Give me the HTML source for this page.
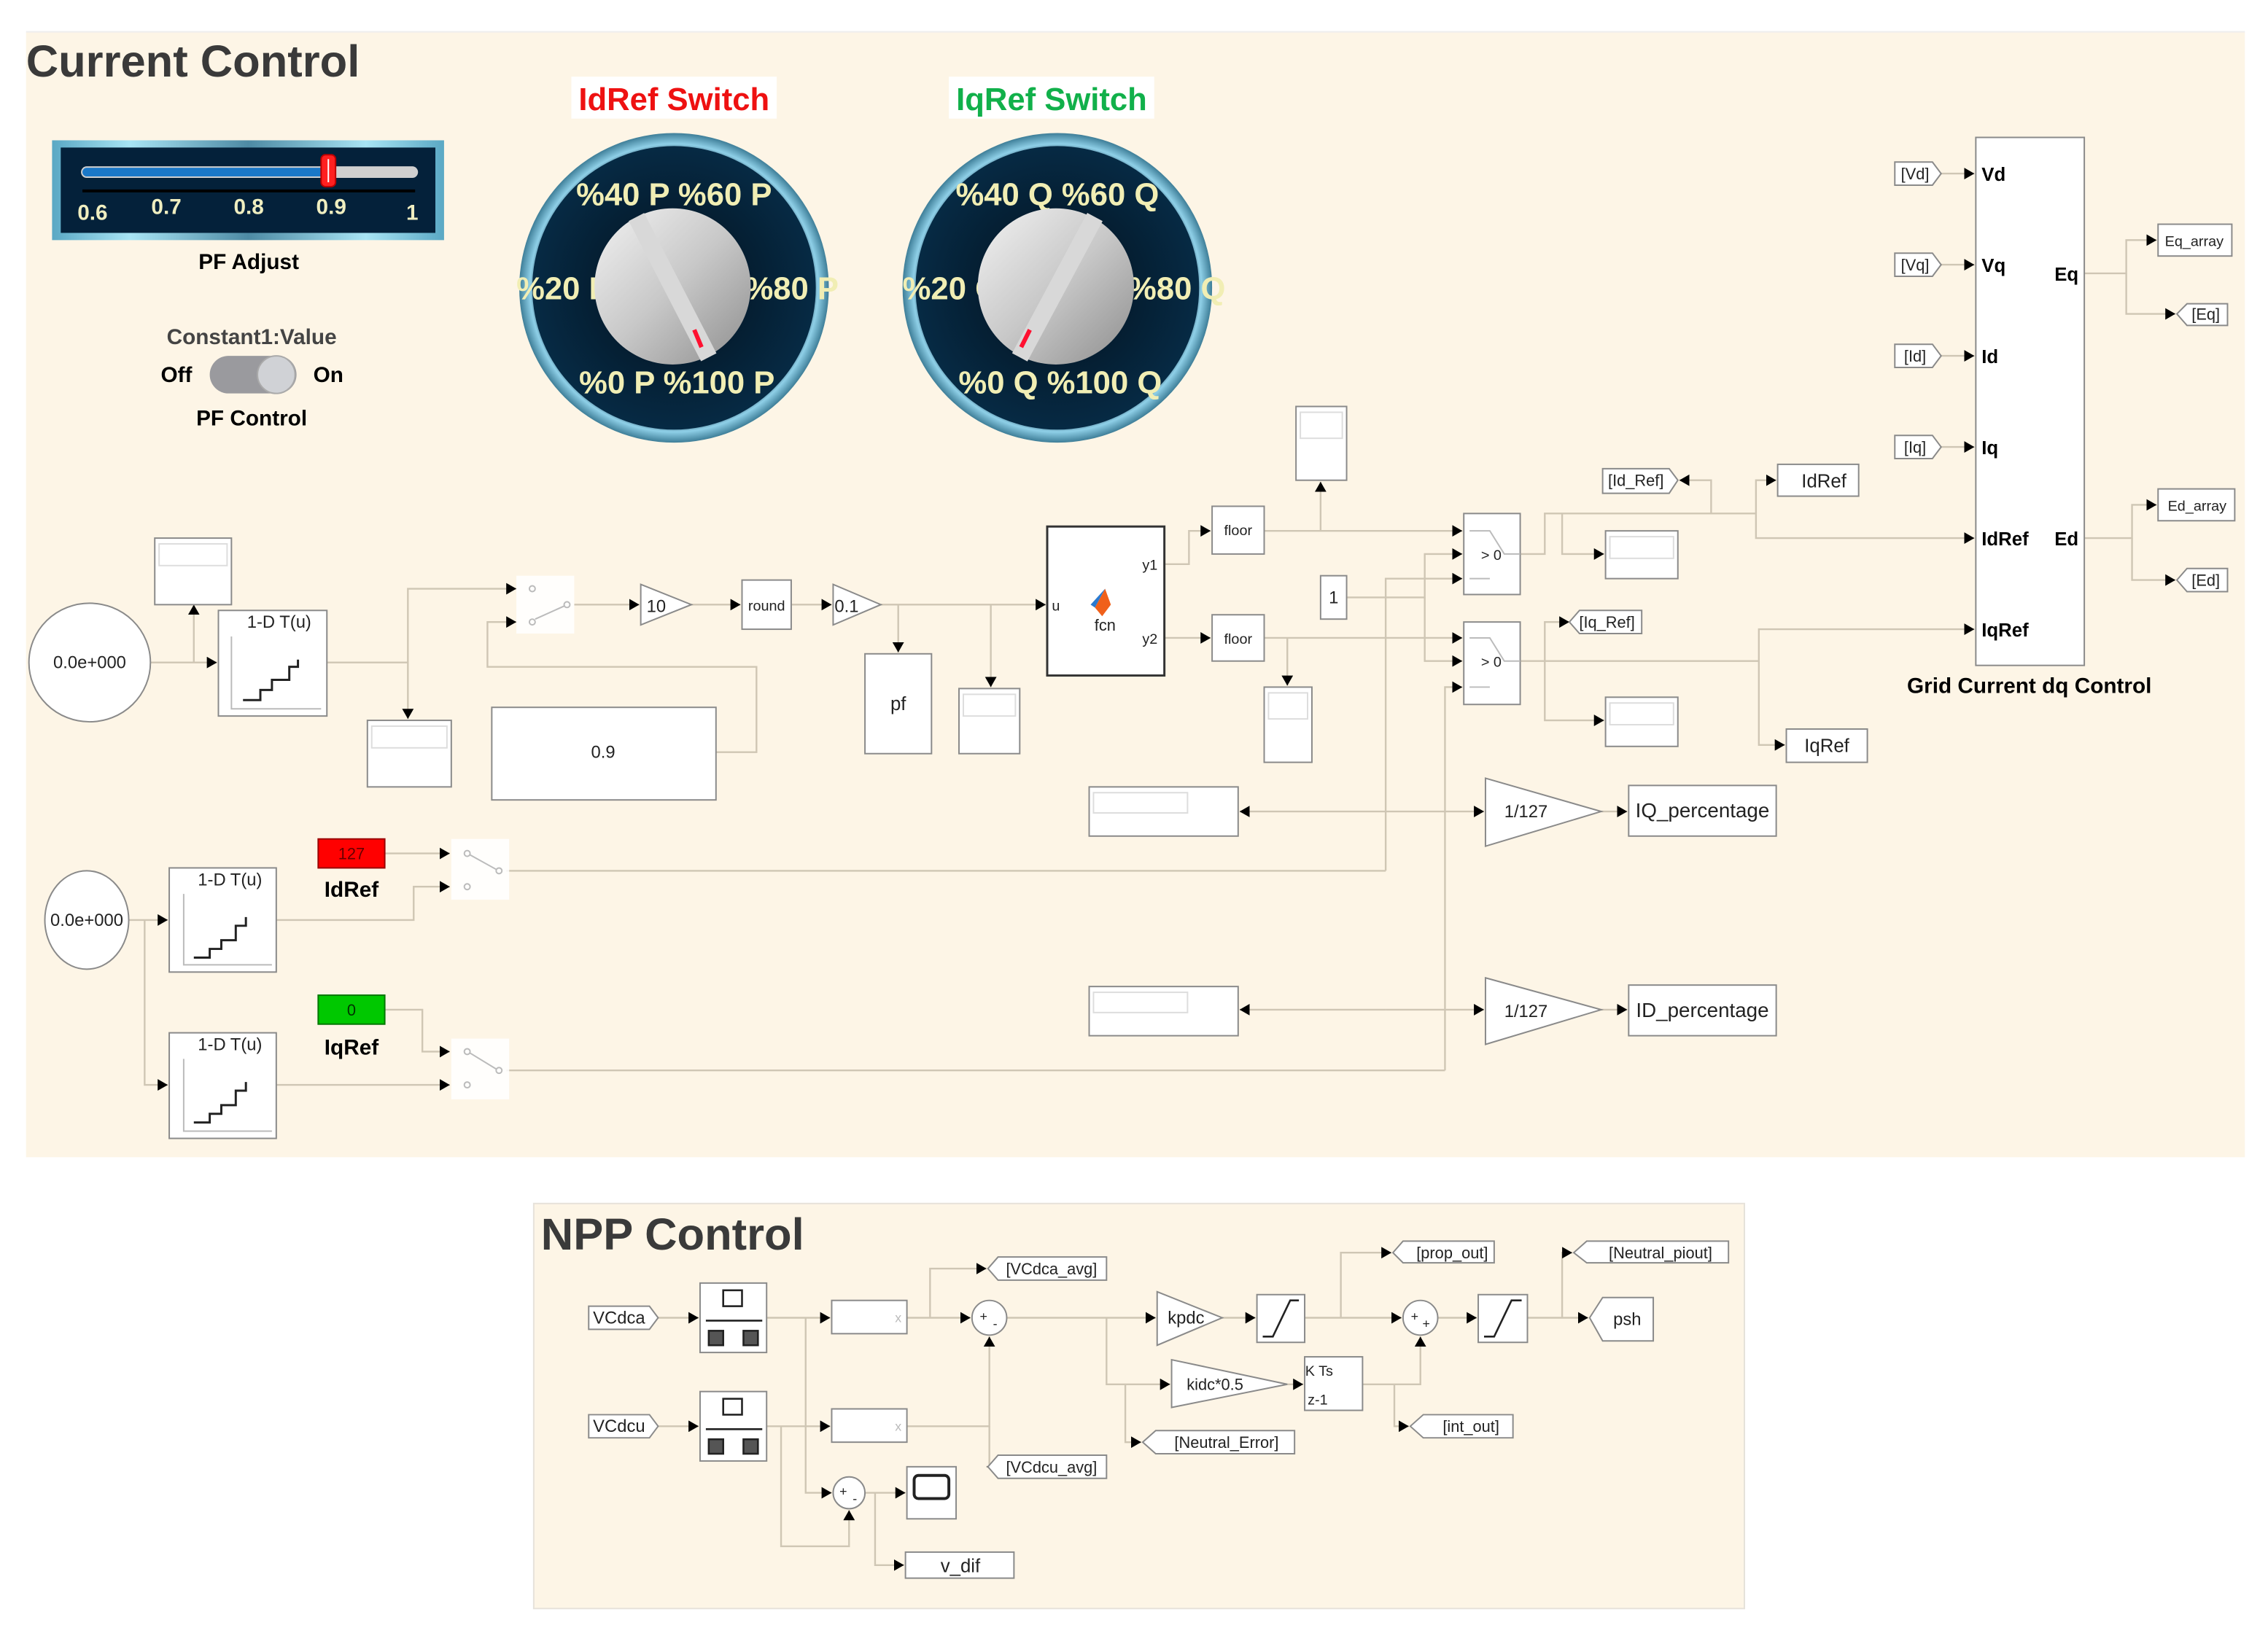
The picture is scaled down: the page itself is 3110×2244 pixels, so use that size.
<!DOCTYPE html>
<html><head><meta charset="utf-8">
<style>
html,body{margin:0;padding:0;background:#fff;}
svg{display:block;}
text{font-family:"Liberation Sans",Arial,sans-serif;}
</style></head>
<body>
<svg width="3110" height="2244" viewBox="0 0 1568 1131" preserveAspectRatio="none" xmlns="http://www.w3.org/2000/svg">
<defs>
<marker id="a" markerUnits="userSpaceOnUse" markerWidth="8" markerHeight="8" refX="7" refY="4" orient="auto">
<path d="M0,0 L7,4 L0,8 z" fill="#000"/></marker>
<radialGradient id="ring" cx="50%" cy="50%" r="50%">
<stop offset="86%" stop-color="#0c2a40"/><stop offset="93%" stop-color="#8fd0e8"/><stop offset="100%" stop-color="#3e7e98"/></radialGradient>
<radialGradient id="dark" cx="50%" cy="50%" r="50%"><stop offset="0%" stop-color="#03101c"/><stop offset="100%" stop-color="#062a44"/></radialGradient>
<linearGradient id="silver" x1="0" y1="0" x2="1" y2="1"><stop offset="0" stop-color="#f2f2f2"/><stop offset="0.5" stop-color="#c8c8c8"/><stop offset="1" stop-color="#8e8e8e"/></linearGradient>
<linearGradient id="frame" x1="0" y1="0" x2="1" y2="0"><stop offset="0" stop-color="#5aa8c4"/><stop offset="0.2" stop-color="#a8e4f4"/><stop offset="0.5" stop-color="#4d8aa4"/><stop offset="0.8" stop-color="#a8e4f4"/><stop offset="1" stop-color="#5aa8c4"/></linearGradient>
</defs>

<rect x="18" y="22" width="1534" height="778" fill="#fdf5e6"/>
<line x1="18" y1="22" x2="1552" y2="22" stroke="#eee"/>
<rect x="369" y="832" width="837" height="280" fill="#fdf5e6" stroke="#e6e2da"/>

<text x="18" y="53" font-size="31" font-weight="bold" fill="#3a3a3a">Current Control</text>
<text x="374" y="864" font-size="31" font-weight="bold" fill="#3a3a3a">NPP Control</text>

<rect x="395" y="53" width="142" height="29" fill="#fff"/>
<text x="466" y="76" font-size="22" font-weight="bold" fill="#ee1111" text-anchor="middle">IdRef Switch</text>
<rect x="656" y="53" width="142" height="29" fill="#fff"/>
<text x="727" y="76" font-size="22" font-weight="bold" fill="#11b04a" text-anchor="middle">IqRef Switch</text>

<rect x="36" y="97" width="271" height="69" fill="url(#frame)"/>
<rect x="42" y="102" width="259" height="59" fill="#04213a"/>
<rect x="56" y="115" width="233" height="8" rx="4" fill="#d0d0d0"/>
<rect x="57" y="116" width="170" height="6" rx="3" fill="#1a78c8"/>
<rect x="222" y="107" width="10" height="22" rx="3" fill="#ff2020" stroke="#b00" stroke-width="1"/>
<line x1="227" y1="110" x2="227" y2="126" stroke="#fff" stroke-width="1"/>
<line x1="57" y1="132" x2="287" y2="132" stroke="#000" stroke-width="2"/>
<g fill="#efeec0" font-size="15" font-weight="bold" text-anchor="middle">
<text x="64" y="152">0.6</text><text x="115" y="148">0.7</text><text x="172" y="148">0.8</text><text x="229" y="148">0.9</text><text x="285" y="152">1</text></g>
<text x="172" y="186" font-size="15" font-weight="bold" text-anchor="middle">PF Adjust</text>
<text x="174" y="238" font-size="15" font-weight="bold" fill="#444" text-anchor="middle">Constant1:Value</text>
<text x="122" y="264" font-size="15" font-weight="bold" text-anchor="middle">Off</text>
<rect x="145" y="246" width="60" height="26" rx="13" fill="#9a9a9e"/>
<circle cx="191" cy="259" r="13" fill="#d0d2d6" stroke="#aaa"/>
<text x="227" y="264" font-size="15" font-weight="bold" text-anchor="middle">On</text>
<text x="174" y="294" font-size="15" font-weight="bold" text-anchor="middle">PF Control</text>

<circle cx="466" cy="199" r="107" fill="url(#ring)"/>
<circle cx="466" cy="199" r="98" fill="url(#dark)"/>
<g font-size="22" font-weight="bold" fill="#f1eeb4">
<text x="466" y="142" text-anchor="middle">%40 P %60 P</text>
<text x="357" y="207">%20 P</text>
<text x="515" y="207">%80 P</text>
<text x="468" y="272" text-anchor="middle">%0 P %100 P</text></g>
<circle cx="465" cy="198" r="54" fill="url(#silver)"/>
<line x1="440" y1="150" x2="490" y2="247" stroke="#d8d8d8" stroke-width="12"/>
<line x1="480" y1="228" x2="485" y2="240" stroke="#ff1030" stroke-width="3"/>
<circle cx="731" cy="199" r="107" fill="url(#ring)"/>
<circle cx="731" cy="199" r="98" fill="url(#dark)"/>
<g font-size="22" font-weight="bold" fill="#f1eeb4">
<text x="731" y="142" text-anchor="middle">%40 Q %60 Q</text>
<text x="624" y="207">%20 Q</text>
<text x="780" y="207">%80 Q</text>
<text x="733" y="272" text-anchor="middle">%0 Q %100 Q</text></g>
<circle cx="730" cy="198" r="54" fill="url(#silver)"/>
<line x1="757" y1="150" x2="705" y2="247" stroke="#d8d8d8" stroke-width="12"/>
<line x1="712" y1="228" x2="706" y2="240" stroke="#ff1030" stroke-width="3"/>

<g fill="none" stroke="#cfc6b4" stroke-width="1.2">
<polyline points="104,458 150,458" marker-end="url(#a)"/>
<polyline points="134,458 134,418" marker-end="url(#a)"/>
<polyline points="226,458 282,458 282,407 357,407" marker-end="url(#a)"/>
<polyline points="282,458 282,497" marker-end="url(#a)"/>
<polyline points="495,520 523,520 523,461 337,461 337,430 357,430" marker-end="url(#a)"/>
<polyline points="397,418 442,418" marker-end="url(#a)"/>
<polyline points="478,418 512,418" marker-end="url(#a)"/>
<polyline points="547,418 575,418" marker-end="url(#a)"/>
<polyline points="609,418 723,418" marker-end="url(#a)"/>
<polyline points="621,418 621,451" marker-end="url(#a)"/>
<polyline points="685,418 685,475" marker-end="url(#a)"/>
<polyline points="805,390 822,390 822,367 837,367" marker-end="url(#a)"/>
<polyline points="805,441 837,441" marker-end="url(#a)"/>
<polyline points="874,367 1011,367" marker-end="url(#a)"/>
<polyline points="913,367 913,333" marker-end="url(#a)"/>
<polyline points="874,441 1011,441" marker-end="url(#a)"/>
<polyline points="890,441 890,474" marker-end="url(#a)"/>
<polyline points="931,413 985,413 985,383 1011,383" marker-end="url(#a)"/>
<polyline points="985,413 985,457 1011,457" marker-end="url(#a)"/>
<polyline points="958,602 958,400 1011,400" marker-end="url(#a)"/>
<polyline points="999,740 999,475 1011,475" marker-end="url(#a)"/>
<polyline points="1051,383 1068,383 1068,355 1214,355 1214,372 1365,372" marker-end="url(#a)"/>
<polyline points="1183,355 1183,332 1161,332" marker-end="url(#a)"/>
<polyline points="1214,355 1214,332 1228,332" marker-end="url(#a)"/>
<polyline points="1080,355 1080,383 1109,383" marker-end="url(#a)"/>
<polyline points="1051,457 1216,457 1216,435 1365,435" marker-end="url(#a)"/>
<polyline points="1068,457 1068,430 1085,430" marker-end="url(#a)"/>
<polyline points="1068,457 1068,498 1109,498" marker-end="url(#a)"/>
<polyline points="1216,457 1216,515 1234,515" marker-end="url(#a)"/>
<polyline points="999,561 1026,561" marker-end="url(#a)"/>
<polyline points="999,561 857,561" marker-end="url(#a)"/>
<polyline points="1107,561 1125,561" marker-end="url(#a)"/>
<polyline points="958,698 1026,698" marker-end="url(#a)"/>
<polyline points="958,698 857,698" marker-end="url(#a)"/>
<polyline points="1107,698 1125,698" marker-end="url(#a)"/>
<polyline points="1342,120 1365,120" marker-end="url(#a)"/>
<polyline points="1342,183 1365,183" marker-end="url(#a)"/>
<polyline points="1342,246 1365,246" marker-end="url(#a)"/>
<polyline points="1342,309 1365,309" marker-end="url(#a)"/>
<polyline points="1441,189 1470,189 1470,166 1491,166" marker-end="url(#a)"/>
<polyline points="1470,189 1470,217 1504,217" marker-end="url(#a)"/>
<polyline points="1441,372 1474,372 1474,349 1491,349" marker-end="url(#a)"/>
<polyline points="1474,372 1474,401 1504,401" marker-end="url(#a)"/>
<polyline points="89,636 116,636" marker-end="url(#a)"/>
<polyline points="100,636 100,750 116,750" marker-end="url(#a)"/>
<polyline points="266,590 311,590" marker-end="url(#a)"/>
<polyline points="191,636 286,636 286,613 311,613" marker-end="url(#a)"/>
<polyline points="350,602 958,602"/>
<polyline points="266,698 292,698 292,727 311,727" marker-end="url(#a)"/>
<polyline points="191,750 311,750" marker-end="url(#a)"/>
<polyline points="350,740 999,740"/>
<polyline points="455,911 483,911" marker-end="url(#a)"/>
<polyline points="530,911 574,911" marker-end="url(#a)"/>
<polyline points="627,911 671,911" marker-end="url(#a)"/>
<polyline points="643,911 643,877 682,877" marker-end="url(#a)"/>
<polyline points="696,911 799,911" marker-end="url(#a)"/>
<polyline points="845,911 868,911" marker-end="url(#a)"/>
<polyline points="902,911 969,911" marker-end="url(#a)"/>
<polyline points="927,911 927,866 962,866" marker-end="url(#a)"/>
<polyline points="994,911 1021,911" marker-end="url(#a)"/>
<polyline points="1056,911 1098,911" marker-end="url(#a)"/>
<polyline points="1080,911 1080,866 1087,866" marker-end="url(#a)"/>
<polyline points="765,911 765,957 809,957" marker-end="url(#a)"/>
<polyline points="778,957 778,997 789,997" marker-end="url(#a)"/>
<polyline points="890,957 901,957" marker-end="url(#a)"/>
<polyline points="942,957 982,957 982,924" marker-end="url(#a)"/>
<polyline points="964,957 964,986 974,986" marker-end="url(#a)"/>
<polyline points="455,986 483,986" marker-end="url(#a)"/>
<polyline points="530,986 574,986" marker-end="url(#a)"/>
<polyline points="627,986 684,986 684,924" marker-end="url(#a)"/>
<polyline points="684,986 684,1014 682,1014" marker-end="url(#a)"/>
<polyline points="557,911 557,1032 575,1032" marker-end="url(#a)"/>
<polyline points="540,986 540,1069 587,1069 587,1044" marker-end="url(#a)"/>
<polyline points="598,1032 626,1032" marker-end="url(#a)"/>
<polyline points="605,1032 605,1082 625,1082" marker-end="url(#a)"/>
</g>

<g fill="#fff" stroke="#8a8a8a" stroke-width="1">
<ellipse cx="62" cy="458" rx="42" ry="41"/>
<ellipse cx="60" cy="636" rx="29" ry="34"/>
<rect x="107" y="372" width="53" height="46"/>
<rect x="151" y="422" width="75" height="73"/>
<rect x="254" y="498" width="58" height="46"/>
<rect x="340" y="489" width="155" height="64"/>
<rect x="513" y="401" width="34" height="34"/>
<rect x="598" y="452" width="46" height="69"/>
<rect x="663" y="476" width="42" height="45"/>
<rect x="724" y="364" width="81" height="103" stroke="#333" stroke-width="1.5"/>
<rect x="838" y="350" width="36" height="33"/>
<rect x="838" y="425" width="36" height="32"/>
<rect x="896" y="281" width="35" height="51"/>
<rect x="874" y="475" width="33" height="52"/>
<rect x="913" y="398" width="18" height="30"/>
<rect x="1012" y="355" width="39" height="56"/>
<rect x="1012" y="430" width="39" height="57"/>
<rect x="1110" y="367" width="50" height="33"/>
<rect x="1110" y="482" width="50" height="34"/>
<rect x="1229" y="321" width="56" height="22"/>
<rect x="1235" y="504" width="56" height="23"/>
<rect x="1366" y="95" width="75" height="365"/>
<rect x="1492" y="155" width="51" height="22"/>
<rect x="1492" y="338" width="53" height="22"/>
<rect x="753" y="544" width="103" height="34"/>
<rect x="753" y="682" width="103" height="34"/>
<polygon points="1027,538 1107,561 1027,585"/>
<polygon points="1027,676 1107,698 1027,722"/>
<rect x="1126" y="543" width="102" height="35"/>
<rect x="1126" y="681" width="102" height="35"/>
<rect x="117" y="600" width="74" height="72"/>
<rect x="117" y="714" width="74" height="73"/>
<polygon points="443,404 478,418 443,432"/>
<polygon points="576,404 609,418 576,432"/>
<rect x="484" y="887" width="46" height="48"/>
<rect x="484" y="962" width="46" height="48"/>
<rect x="575" y="899" width="52" height="23"/>
<rect x="575" y="974" width="52" height="23"/>
<circle cx="684" cy="911" r="12"/>
<circle cx="982" cy="911" r="12"/>
<circle cx="587" cy="1032" r="11"/>
<polygon points="800,893 845,911 800,930"/>
<polygon points="810,940 890,957 810,973"/>
<rect x="869" y="895" width="33" height="33"/>
<rect x="1022" y="895" width="34" height="33"/>
<rect x="902" y="938" width="40" height="37"/>
<rect x="627" y="1014" width="34" height="36"/>
<rect x="626" y="1073" width="75" height="18"/>
</g>
<g fill="#fff" opacity="0.85">
<rect x="357" y="398" width="40" height="40"/>
<rect x="312" y="580" width="40" height="42"/>
<rect x="312" y="718" width="40" height="42"/>
</g>
<g fill="none" stroke="#bbb" stroke-width="1">
<circle cx="368" cy="407" r="2"/><circle cx="368" cy="430" r="2"/><circle cx="392" cy="418" r="2"/><line x1="370" y1="428" x2="390" y2="419"/>
<circle cx="323" cy="590" r="2"/><circle cx="323" cy="613" r="2"/><circle cx="345" cy="602" r="2"/><line x1="325" y1="591" x2="343" y2="601"/>
<circle cx="323" cy="727" r="2"/><circle cx="323" cy="750" r="2"/><circle cx="345" cy="740" r="2"/><line x1="325" y1="728" x2="343" y2="739"/>
<polyline points="1016,367 1030,367 1040,383 1051,383"/><polyline points="1016,400 1030,400"/>
<polyline points="1016,441 1030,441 1040,457 1051,457"/><polyline points="1016,475 1030,475"/>
</g>
<g fill="none" stroke="#ddd">
<rect x="110" y="376" width="47" height="15"/><rect x="257" y="502" width="52" height="15"/>
<rect x="666" y="480" width="36" height="15"/><rect x="899" y="285" width="29" height="18"/>
<rect x="877" y="479" width="27" height="18"/><rect x="1113" y="371" width="44" height="15"/>
<rect x="1113" y="486" width="44" height="15"/><rect x="756" y="548" width="65" height="14"/>
<rect x="756" y="686" width="65" height="14"/>
</g>
<g fill="none" stroke="#222" stroke-width="1.5">
<polyline points="168,484 180,484 180,477 188,477 188,470 200,470 200,461 206,461 206,456"/>
<polyline points="134,662 145,662 145,656 153,656 153,650 163,650 163,640 170,640 170,634"/>
<polyline points="134,776 145,776 145,770 153,770 153,764 163,764 163,754 170,754 170,748"/>
</g>
<g fill="none" stroke="#bbb"><polyline points="160,440 160,490 222,490"/><polyline points="127,618 127,667 188,667"/><polyline points="127,732 127,782 188,782"/></g>

<g font-size="12" fill="#222" text-anchor="middle">
<text x="62" y="462">0.0e+000</text>
<text x="60" y="640">0.0e+000</text>
<text x="193" y="434">1-D T(u)</text>
<text x="159" y="612">1-D T(u)</text>
<text x="159" y="726">1-D T(u)</text>
<text x="417" y="524">0.9</text>
<text x="447" y="423" text-anchor="start">10</text>
<text x="530" y="422" font-size="10">round</text>
<text x="577" y="423" text-anchor="start">0.1</text>
<text x="621" y="491" font-size="13">pf</text>
<text x="730" y="422" font-size="10">u</text>
<text x="795" y="394" font-size="10">y1</text>
<text x="795" y="445" font-size="10">y2</text>
<text x="764" y="436" font-size="11">fcn</text>
<text x="856" y="370" font-size="10">floor</text>
<text x="856" y="445" font-size="10">floor</text>
<text x="922" y="417">1</text>
<text x="1031" y="387" font-size="10">&gt; 0</text>
<text x="1031" y="461" font-size="10">&gt; 0</text>
<text x="1261" y="337" font-size="13">IdRef</text>
<text x="1263" y="520" font-size="13">IqRef</text>
<text x="1055" y="565">1/127</text>
<text x="1055" y="703">1/127</text>
<text x="1177" y="565" font-size="14">IQ_percentage</text>
<text x="1177" y="703" font-size="14">ID_percentage</text>
<text x="1517" y="170" font-size="10">Eq_array</text>
<text x="1519" y="353" font-size="10">Ed_array</text>
</g>
<path d="M764,407 L768,418 L762,426 L757,420 Z" fill="#f0601a"/><path d="M764,407 L757,420 L754,418 Z" fill="#2a7ad0"/>
<g font-size="13" font-weight="bold">
<text x="1370" y="125">Vd</text><text x="1370" y="188">Vq</text><text x="1370" y="251">Id</text><text x="1370" y="314">Iq</text>
<text x="1370" y="377">IdRef</text><text x="1370" y="440">IqRef</text>
<text x="1437" y="194" text-anchor="end">Eq</text><text x="1437" y="377" text-anchor="end">Ed</text>
</g>
<text x="1403" y="479" font-size="15" font-weight="bold" text-anchor="middle">Grid Current dq Control</text>

<g fill="#fff" stroke="#8a8a8a">
<polygon points="1310,112 1336,112 1342,120 1336,128 1310,128"/>
<polygon points="1310,175 1336,175 1342,183 1336,191 1310,191"/>
<polygon points="1310,238 1336,238 1342,246 1336,254 1310,254"/>
<polygon points="1310,301 1336,301 1342,309 1336,317 1310,317"/>
<polygon points="1505,217 1512,210 1540,210 1540,225 1512,225"/>
<polygon points="1505,401 1512,393 1540,393 1540,409 1512,409"/>
<polygon points="1108,324 1154,324 1160,332 1154,341 1108,341"/>
<polygon points="1085,430 1092,422 1135,422 1135,438 1092,438"/>
<polygon points="407,903 449,903 455,911 449,919 407,919"/>
<polygon points="407,978 449,978 455,986 449,994 407,994"/>
<polygon points="683,877 690,869 765,869 765,885 690,885"/>
<polygon points="683,1014 690,1006 765,1006 765,1022 690,1022"/>
<polygon points="963,866 970,858 1033,858 1033,873 970,873"/>
<polygon points="1088,866 1097,858 1195,858 1195,873 1097,873"/>
<polygon points="1099,911 1108,897 1143,897 1143,927 1108,927"/>
<polygon points="790,997 799,989 895,989 895,1005 799,1005"/>
<polygon points="975,986 984,978 1046,978 1046,994 984,994"/>
</g>
<g font-size="11" fill="#222" text-anchor="middle">
<text x="1324" y="124">[Vd]</text><text x="1324" y="187">[Vq]</text><text x="1324" y="250">[Id]</text><text x="1324" y="313">[Iq]</text>
<text x="1525" y="221">[Eq]</text><text x="1525" y="405">[Ed]</text>
<text x="1131" y="336">[Id_Ref]</text><text x="1111" y="434">[Iq_Ref]</text>
<text x="428" y="915" font-size="12">VCdca</text><text x="428" y="990" font-size="12">VCdcu</text>
<text x="727" y="881">[VCdca_avg]</text><text x="727" y="1018">[VCdcu_avg]</text>
<text x="1004" y="870">[prop_out]</text><text x="1148" y="870">[Neutral_piout]</text>
<text x="1125" y="916" font-size="12">psh</text>
<text x="848" y="1001">[Neutral_Error]</text><text x="1017" y="990">[int_out]</text>
<text x="820" y="915" font-size="12">kpdc</text>
<text x="840" y="961">kidc*0.5</text>
<text x="912" y="951" font-size="10">K Ts</text><text x="911" y="971" font-size="10">z-1</text>
<text x="664" y="1087" font-size="13">v_dif</text>
<text x="680" y="913" font-size="9">+</text><text x="688" y="918" font-size="9">-</text>
<text x="978" y="913" font-size="9">+</text><text x="986" y="918" font-size="9">+</text>
<text x="583" y="1034" font-size="9">+</text><text x="591" y="1039" font-size="9">-</text>
<text x="621" y="914" font-size="9" fill="#bbb">x</text><text x="621" y="989" font-size="9" fill="#bbb">x</text>
</g>
<rect x="220" y="580" width="46" height="20" fill="#ff0000" stroke="#900"/>
<text x="243" y="594" font-size="11" fill="#600" text-anchor="middle">127</text>
<text x="243" y="620" font-size="15" font-weight="bold" text-anchor="middle">IdRef</text>
<rect x="220" y="688" width="46" height="20" fill="#00c800" stroke="#070"/>
<text x="243" y="702" font-size="11" fill="#030" text-anchor="middle">0</text>
<text x="243" y="729" font-size="15" font-weight="bold" text-anchor="middle">IqRef</text>

<g fill="none" stroke="#222" stroke-width="1.3">
<rect x="500" y="892" width="13" height="11"/><line x1="488" y1="913" x2="527" y2="913"/>
<rect x="490" y="920" width="10" height="10" fill="#555"/><rect x="514" y="920" width="10" height="10" fill="#555"/>
<rect x="500" y="967" width="13" height="11"/><line x1="488" y1="988" x2="527" y2="988"/>
<rect x="490" y="995" width="10" height="10" fill="#555"/><rect x="514" y="995" width="10" height="10" fill="#555"/>
<polyline points="873,924 880,924 892,899 898,899"/>
<polyline points="1026,924 1033,924 1045,899 1052,899"/>
<rect x="632" y="1020" width="24" height="16" rx="3" stroke-width="2"/>
</g>
</svg>
</body></html>
